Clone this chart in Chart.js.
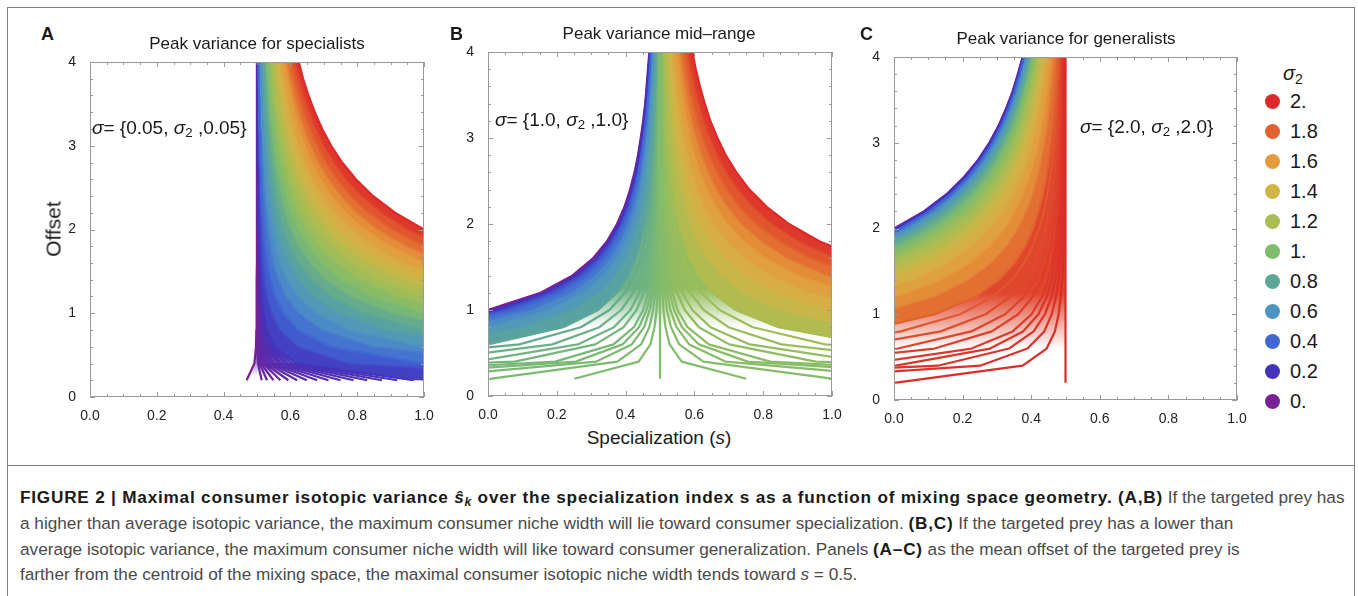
<!DOCTYPE html>
<html>
<head>
<meta charset="utf-8">
<title>Figure 2 - peak consumer variance</title>
<script src="https://cdn.jsdelivr.net/npm/chart.js@4.4.1/dist/chart.umd.min.js"></script>
<style>
  html, body { margin: 0; padding: 0; background: #fff; }
  body { width: 1358px; height: 596px; position: relative; overflow: hidden;
         font-family: "Liberation Sans", Arial, Helvetica, sans-serif; color: #1a1a1a; }
  .frame { position: absolute; left: 7px; top: 7px; width: 1348px; height: 640px;
           border: 1.5px solid #808080; box-sizing: border-box; }
  .rule { position: absolute; left: 7px; top: 465px; width: 1348px; border-top: 1.5px solid #808080; }
  canvas { position: absolute; }
  .txt { position: absolute; white-space: nowrap; line-height: 1; }
  .center { transform: translate(-50%, -50%); }
  .letter { font-weight: bold; font-size: 18px; }
  .ptitle { font-size: 17px; }
  .annot { font-size: 19px; }
  .axtitle { font-size: 19px; }
  .legend-title { font-size: 20px; }
  .legend-item { position: absolute; font-size: 20px; line-height: 1; }
  .dot { position: absolute; width: 15px; height: 15px; border-radius: 50%; }
  .caption { position: absolute; left: 20px; font-size: 17.2px; color: #4a4a4a; white-space: nowrap; line-height: 20px; }
  .caption b { color: #1a1a1a; letter-spacing: 0.78px; }
  sub { font-size: 0.7em; vertical-align: -0.25em; line-height: 0; }
</style>
</head>
<body>
<div class="frame"></div>
<div class="rule"></div>

<canvas id="chartA"></canvas>
<canvas id="chartB"></canvas>
<canvas id="chartC"></canvas>

<div class="txt letter" style="left:41px; top:25px;">A</div>
<div class="txt letter" style="left:450px; top:25px;">B</div>
<div class="txt letter" style="left:860px; top:25px;">C</div>

<div class="txt ptitle center" style="left:257px; top:43px;">Peak variance for specialists</div>
<div class="txt ptitle center" style="left:659px; top:33px;">Peak variance mid&#8211;range</div>
<div class="txt ptitle center" style="left:1066px; top:38px;">Peak variance for generalists</div>

<div class="txt annot" style="left:92px; top:118px;"><i>σ</i>= {0.05, <i>σ</i><sub>2</sub> ,0.05}</div>
<div class="txt annot" style="left:495px; top:110px;"><i>σ</i>= {1.0, <i>σ</i><sub>2</sub> ,1.0}</div>
<div class="txt annot" style="left:1080px; top:117px;"><i>σ</i>= {2.0, <i>σ</i><sub>2</sub> ,2.0}</div>

<div class="txt axtitle center" style="left:53px; top:229px; transform: translate(-50%, -50%) rotate(-90deg); font-size:21px;">Offset</div>
<div class="txt axtitle center" style="left:659px; top:437px;">Specialization (<i>s</i>)</div>

<div id="legend"></div>

<div class="caption" style="top:487px;"><b>FIGURE 2 | Maximal consumer isotopic variance <i>ŝ<sub>k</sub></i> over the specialization index s as a function of mixing space geometry. (A,B)</b> If the targeted prey has</div>
<div class="caption" style="top:513px;">a higher than average isotopic variance, the maximum consumer niche width will lie toward consumer specialization. <b>(B,C)</b> If the targeted prey has a lower than</div>
<div class="caption" style="top:539px;">average isotopic variance, the maximum consumer niche width will like toward consumer generalization. Panels <b>(A&#8211;C)</b> as the mean offset of the targeted prey is</div>
<div class="caption" style="top:564px;">farther from the centroid of the mixing space, the maximal consumer isotopic niche width tends toward <i>s</i> = 0.5.</div>

<script>
// offsets at which every curve was sampled
const offsets = [0.2, 0.4, 0.6, 0.8, 1.0, 1.2, 1.4, 1.6, 1.8, 2.0, 2.2, 2.4, 2.6, 2.8, 3.0, 3.2, 3.4, 3.6, 3.8, 4.0];

// sigma2 values shown in the legend and their colours
const sigma2 = [0, 0.2, 0.4, 0.6, 0.8, 1.0, 1.2, 1.4, 1.6, 1.8, 2.0];
const sigma2Labels = ['0.', '0.2', '0.4', '0.6', '0.8', '1.', '1.2', '1.4', '1.6', '1.8', '2.'];
const sigma2Colors = ['#7a1f96', '#4434bc', '#4068d4', '#4e94c2', '#5da797', '#80bc6c',
                      '#a8bd52', '#d1b446', '#e49b3c', '#e2622f', '#db2a29'];

const xTickLabels = ['0.0', '0.2', '0.4', '0.6', '0.8', '1.0'];
const yTickLabels = ['0', '1', '2', '3', '4'];

// ---------- panel A, sigma = {0.05, sigma2, 0.05}: s at each offset, one row per sigma2 ----------
const peakA = [
  [0.469, 0.492, 0.497, 0.498, 0.499, 0.499, 0.499, 0.5, 0.5, 0.5, 0.5, 0.5, 0.5, 0.5, 0.5, 0.5, 0.5, 0.5, 0.5, 0.5],
  [0.969, 0.617, 0.552, 0.529, 0.519, 0.513, 0.51, 0.507, 0.506, 0.505, 0.504, 0.503, 0.503, 0.502, 0.502, 0.502, 0.502, 0.501, 0.501, 0.501],
  [2.469, 0.992, 0.719, 0.623, 0.579, 0.555, 0.54, 0.531, 0.524, 0.52, 0.516, 0.514, 0.512, 0.51, 0.509, 0.508, 0.507, 0.506, 0.505, 0.505],
  [4.969, 1.617, 0.997, 0.779, 0.679, 0.624, 0.591, 0.57, 0.555, 0.545, 0.537, 0.531, 0.526, 0.523, 0.52, 0.517, 0.515, 0.514, 0.512, 0.511],
  [8.469, 2.492, 1.385, 0.998, 0.819, 0.721, 0.663, 0.625, 0.598, 0.58, 0.566, 0.555, 0.547, 0.541, 0.535, 0.531, 0.528, 0.525, 0.522, 0.52],
  [12.969, 3.617, 1.885, 1.279, 0.999, 0.846, 0.754, 0.695, 0.654, 0.625, 0.603, 0.587, 0.574, 0.564, 0.555, 0.549, 0.543, 0.538, 0.535, 0.531],
  [18.469, 4.992, 2.497, 1.623, 1.219, 0.999, 0.867, 0.781, 0.722, 0.68, 0.649, 0.625, 0.606, 0.592, 0.58, 0.57, 0.562, 0.555, 0.55, 0.545],
  [24.969, 6.617, 3.219, 2.029, 1.479, 1.18, 0.999, 0.882, 0.802, 0.745, 0.702, 0.67, 0.645, 0.625, 0.609, 0.596, 0.585, 0.576, 0.568, 0.561],
  [32.469, 8.492, 4.052, 2.498, 1.779, 1.388, 1.152, 1.0, 0.895, 0.82, 0.764, 0.722, 0.689, 0.663, 0.642, 0.625, 0.611, 0.599, 0.589, 0.58],
  [40.969, 10.617, 4.997, 3.029, 2.119, 1.624, 1.326, 1.132, 1.0, 0.905, 0.834, 0.781, 0.739, 0.706, 0.68, 0.658, 0.64, 0.625, 0.612, 0.601],
  [50.469, 12.992, 6.052, 3.623, 2.499, 1.888, 1.52, 1.281, 1.117, 1.0, 0.913, 0.847, 0.796, 0.755, 0.722, 0.695, 0.673, 0.654, 0.638, 0.625]
];
// in-between curves of panel A
const midSigmaA = [0.3, 0.5, 0.7, 0.9, 1.1, 1.3, 1.5, 1.7, 1.9];
const midA = [
  [1.594, 0.773, 0.622, 0.568, 0.544, 0.53, 0.522, 0.517, 0.514, 0.511, 0.509, 0.508, 0.506, 0.506, 0.505, 0.504, 0.504, 0.503, 0.503, 0.503],
  [3.594, 1.273, 0.844, 0.693, 0.624, 0.586, 0.563, 0.548, 0.538, 0.531, 0.526, 0.521, 0.518, 0.516, 0.514, 0.512, 0.511, 0.51, 0.509, 0.508],
  [6.594, 2.023, 1.177, 0.881, 0.744, 0.669, 0.624, 0.595, 0.575, 0.561, 0.55, 0.542, 0.536, 0.531, 0.527, 0.524, 0.521, 0.519, 0.517, 0.515],
  [10.594, 3.023, 1.622, 1.131, 0.904, 0.78, 0.706, 0.658, 0.625, 0.601, 0.583, 0.57, 0.56, 0.551, 0.545, 0.539, 0.535, 0.531, 0.528, 0.525],
  [15.594, 4.273, 2.177, 1.443, 1.104, 0.919, 0.808, 0.736, 0.686, 0.651, 0.625, 0.605, 0.589, 0.577, 0.567, 0.559, 0.552, 0.547, 0.542, 0.538],
  [21.594, 5.773, 2.844, 1.818, 1.344, 1.086, 0.93, 0.83, 0.76, 0.711, 0.674, 0.646, 0.625, 0.608, 0.594, 0.582, 0.573, 0.565, 0.558, 0.553],
  [28.594, 7.523, 3.622, 2.256, 1.624, 1.28, 1.073, 0.939, 0.847, 0.781, 0.732, 0.695, 0.666, 0.643, 0.625, 0.61, 0.597, 0.587, 0.578, 0.57],
  [36.594, 9.523, 4.51, 2.756, 1.944, 1.503, 1.237, 1.064, 0.946, 0.861, 0.798, 0.751, 0.714, 0.684, 0.66, 0.641, 0.625, 0.611, 0.6, 0.59],
  [45.594, 11.773, 5.51, 3.318, 2.304, 1.753, 1.42, 1.205, 1.057, 0.951, 0.873, 0.813, 0.767, 0.73, 0.7, 0.676, 0.656, 0.639, 0.625, 0.613]
];
// the thin fan of curves at the bottom of panel A
const fanSigmaA = [0.06, 0.07, 0.08, 0.09, 0.1, 0.11, 0.12, 0.13, 0.14, 0.15, 0.16, 0.17, 0.18, 0.19];
const fanA = [
  [0.514, 0.503, 0.502, 0.501, 0.501, 0.5, 0.5, 0.5, 0.5, 0.5, 0.5, 0.5, 0.5, 0.5, 0.5, 0.5, 0.5, 0.5, 0.5, 0.5],
  [0.53, 0.508, 0.503, 0.502, 0.501, 0.501, 0.501, 0.5, 0.5, 0.5, 0.5, 0.5, 0.5, 0.5, 0.5, 0.5, 0.5, 0.5, 0.5, 0.5],
  [0.549, 0.512, 0.505, 0.503, 0.502, 0.501, 0.501, 0.501, 0.501, 0.5, 0.5, 0.5, 0.5, 0.5, 0.5, 0.5, 0.5, 0.5, 0.5, 0.5],
  [0.57, 0.518, 0.508, 0.504, 0.503, 0.502, 0.501, 0.501, 0.501, 0.501, 0.501, 0.5, 0.5, 0.5, 0.5, 0.5, 0.5, 0.5, 0.5, 0.5],
  [0.594, 0.523, 0.51, 0.506, 0.504, 0.503, 0.502, 0.501, 0.501, 0.501, 0.501, 0.501, 0.5, 0.5, 0.5, 0.5, 0.5, 0.5, 0.5, 0.5],
  [0.62, 0.53, 0.513, 0.508, 0.505, 0.503, 0.502, 0.502, 0.501, 0.501, 0.501, 0.501, 0.501, 0.501, 0.5, 0.5, 0.5, 0.5, 0.5, 0.5],
  [0.649, 0.537, 0.517, 0.509, 0.506, 0.504, 0.503, 0.502, 0.502, 0.501, 0.501, 0.501, 0.501, 0.501, 0.501, 0.5, 0.5, 0.5, 0.5, 0.5],
  [0.68, 0.545, 0.52, 0.511, 0.507, 0.505, 0.504, 0.503, 0.502, 0.502, 0.501, 0.501, 0.501, 0.501, 0.501, 0.501, 0.501, 0.501, 0.5, 0.5],
  [0.714, 0.553, 0.524, 0.513, 0.509, 0.506, 0.504, 0.503, 0.503, 0.502, 0.502, 0.501, 0.501, 0.501, 0.501, 0.501, 0.501, 0.501, 0.501, 0.501],
  [0.75, 0.563, 0.528, 0.516, 0.51, 0.507, 0.505, 0.504, 0.503, 0.503, 0.502, 0.502, 0.501, 0.501, 0.501, 0.501, 0.501, 0.501, 0.501, 0.501],
  [0.789, 0.572, 0.532, 0.518, 0.512, 0.508, 0.506, 0.505, 0.504, 0.503, 0.502, 0.502, 0.502, 0.501, 0.501, 0.501, 0.501, 0.501, 0.501, 0.501],
  [0.83, 0.583, 0.537, 0.521, 0.513, 0.509, 0.507, 0.505, 0.504, 0.503, 0.503, 0.502, 0.502, 0.502, 0.501, 0.501, 0.501, 0.501, 0.501, 0.501],
  [0.874, 0.593, 0.542, 0.523, 0.515, 0.51, 0.508, 0.506, 0.505, 0.504, 0.503, 0.503, 0.502, 0.502, 0.502, 0.501, 0.501, 0.501, 0.501, 0.501],
  [0.92, 0.605, 0.547, 0.526, 0.517, 0.512, 0.509, 0.507, 0.505, 0.504, 0.503, 0.503, 0.502, 0.502, 0.502, 0.502, 0.501, 0.501, 0.501, 0.501]
];

// ---------- panel B, sigma = {1.0, sigma2, 1.0} ----------
const peakB = [
  [-12, -2.625, -0.889, -0.281, 0, 0.153, 0.245, 0.305, 0.346, 0.375, 0.397, 0.413, 0.426, 0.436, 0.444, 0.451, 0.457, 0.461, 0.465, 0.469],
  [-11.5, -2.5, -0.833, -0.25, 0.02, 0.167, 0.255, 0.313, 0.352, 0.38, 0.401, 0.417, 0.429, 0.439, 0.447, 0.453, 0.458, 0.463, 0.467, 0.47],
  [-10, -2.125, -0.667, -0.156, 0.08, 0.208, 0.286, 0.336, 0.37, 0.395, 0.413, 0.427, 0.438, 0.446, 0.453, 0.459, 0.464, 0.468, 0.471, 0.474],
  [-7.5, -1.5, -0.389, 0, 0.18, 0.278, 0.337, 0.375, 0.401, 0.42, 0.434, 0.444, 0.453, 0.459, 0.464, 0.469, 0.472, 0.475, 0.478, 0.48],
  [-4, -0.625, 0, 0.219, 0.32, 0.375, 0.408, 0.43, 0.444, 0.455, 0.463, 0.469, 0.473, 0.477, 0.48, 0.482, 0.484, 0.486, 0.488, 0.489],
  [0.5, 0.5, 0.5, 0.5, 0.5, 0.5, 0.5, 0.5, 0.5, 0.5, 0.5, 0.5, 0.5, 0.5, 0.5, 0.5, 0.5, 0.5, 0.5, 0.5],
  [6, 1.875, 1.111, 0.844, 0.72, 0.653, 0.612, 0.586, 0.568, 0.555, 0.545, 0.538, 0.533, 0.528, 0.524, 0.521, 0.519, 0.517, 0.515, 0.514],
  [12.5, 3.5, 1.833, 1.25, 0.98, 0.833, 0.745, 0.688, 0.648, 0.62, 0.599, 0.583, 0.571, 0.561, 0.553, 0.547, 0.542, 0.537, 0.533, 0.53],
  [20, 5.375, 2.667, 1.719, 1.28, 1.042, 0.898, 0.805, 0.741, 0.695, 0.661, 0.635, 0.615, 0.599, 0.587, 0.576, 0.567, 0.56, 0.554, 0.549],
  [28.5, 7.5, 3.611, 2.25, 1.62, 1.278, 1.071, 0.938, 0.846, 0.78, 0.731, 0.694, 0.666, 0.643, 0.624, 0.609, 0.597, 0.586, 0.578, 0.57],
  [38, 9.875, 4.667, 2.844, 2, 1.542, 1.265, 1.086, 0.963, 0.875, 0.81, 0.76, 0.722, 0.691, 0.667, 0.646, 0.63, 0.616, 0.604, 0.594]
];
const midSigmaB = [0.1, 0.3, 0.5, 0.7, 1.3, 1.5, 1.7, 1.9];
const midB = [
  [-11.875, -2.594, -0.875, -0.273, 0.005, 0.156, 0.247, 0.307, 0.347, 0.376, 0.398, 0.414, 0.427, 0.437, 0.445, 0.452, 0.457, 0.462, 0.466, 0.469],
  [-10.875, -2.344, -0.764, -0.211, 0.045, 0.184, 0.268, 0.322, 0.36, 0.386, 0.406, 0.421, 0.433, 0.442, 0.449, 0.456, 0.461, 0.465, 0.468, 0.472],
  [-8.875, -1.844, -0.542, -0.086, 0.125, 0.24, 0.309, 0.354, 0.384, 0.406, 0.423, 0.435, 0.445, 0.452, 0.458, 0.463, 0.468, 0.471, 0.474, 0.477],
  [-5.875, -1.094, -0.208, 0.102, 0.245, 0.323, 0.37, 0.4, 0.421, 0.436, 0.447, 0.456, 0.462, 0.467, 0.472, 0.475, 0.478, 0.48, 0.482, 0.484],
  [9.125, 2.656, 1.458, 1.039, 0.845, 0.74, 0.676, 0.635, 0.606, 0.586, 0.571, 0.56, 0.551, 0.544, 0.538, 0.534, 0.53, 0.527, 0.524, 0.522],
  [16.125, 4.406, 2.236, 1.477, 1.125, 0.934, 0.819, 0.744, 0.693, 0.656, 0.629, 0.609, 0.592, 0.58, 0.569, 0.561, 0.554, 0.548, 0.543, 0.539],
  [24.125, 6.406, 3.125, 1.977, 1.445, 1.156, 0.982, 0.869, 0.792, 0.736, 0.695, 0.664, 0.64, 0.621, 0.605, 0.592, 0.582, 0.573, 0.565, 0.559],
  [33.125, 8.656, 4.125, 2.539, 1.805, 1.406, 1.166, 1.01, 0.903, 0.826, 0.77, 0.727, 0.693, 0.666, 0.645, 0.627, 0.613, 0.601, 0.59, 0.582]
];
const fanSigmaB = [0.99, 0.98, 0.97, 0.96, 0.95, 0.93, 0.91, 0.88, 0.84, 1.01, 1.02, 1.03, 1.04, 1.05, 1.07, 1.09, 1.12, 1.16];
const fanB = [
  [0.251, 0.438, 0.472, 0.484, 0.49, 0.493, 0.495, 0.496, 0.497, 0.498, 0.498, 0.498, 0.499, 0.499, 0.499, 0.499, 0.499, 0.499, 0.499, 0.499],
  [0.005, 0.376, 0.445, 0.469, 0.48, 0.486, 0.49, 0.492, 0.494, 0.495, 0.496, 0.497, 0.497, 0.497, 0.498, 0.498, 0.498, 0.498, 0.499, 0.499],
  [-0.239, 0.315, 0.418, 0.454, 0.47, 0.479, 0.485, 0.488, 0.491, 0.493, 0.494, 0.495, 0.496, 0.496, 0.497, 0.497, 0.497, 0.498, 0.498, 0.498],
  [-0.48, 0.255, 0.391, 0.439, 0.461, 0.473, 0.48, 0.485, 0.488, 0.49, 0.492, 0.493, 0.494, 0.495, 0.496, 0.496, 0.497, 0.497, 0.497, 0.498],
  [-0.719, 0.195, 0.365, 0.424, 0.451, 0.466, 0.475, 0.481, 0.485, 0.488, 0.49, 0.492, 0.493, 0.494, 0.495, 0.495, 0.496, 0.496, 0.497, 0.497],
  [-1.189, 0.078, 0.312, 0.394, 0.432, 0.453, 0.466, 0.474, 0.479, 0.483, 0.486, 0.488, 0.49, 0.491, 0.492, 0.493, 0.494, 0.495, 0.495, 0.496],
  [-1.649, -0.037, 0.261, 0.366, 0.414, 0.44, 0.456, 0.466, 0.473, 0.479, 0.482, 0.485, 0.487, 0.489, 0.49, 0.492, 0.493, 0.493, 0.494, 0.495],
  [-2.32, -0.205, 0.187, 0.324, 0.387, 0.422, 0.442, 0.456, 0.465, 0.472, 0.477, 0.48, 0.483, 0.486, 0.487, 0.489, 0.49, 0.491, 0.492, 0.493],
  [-3.18, -0.42, 0.091, 0.27, 0.353, 0.398, 0.425, 0.443, 0.455, 0.463, 0.47, 0.474, 0.478, 0.481, 0.484, 0.486, 0.487, 0.489, 0.49, 0.491],
  [0.751, 0.563, 0.528, 0.516, 0.51, 0.507, 0.505, 0.504, 0.503, 0.503, 0.502, 0.502, 0.501, 0.501, 0.501, 0.501, 0.501, 0.501, 0.501, 0.501],
  [1.005, 0.626, 0.556, 0.532, 0.52, 0.514, 0.51, 0.508, 0.506, 0.505, 0.504, 0.504, 0.503, 0.503, 0.502, 0.502, 0.502, 0.502, 0.501, 0.501],
  [1.261, 0.69, 0.585, 0.548, 0.53, 0.521, 0.516, 0.512, 0.509, 0.508, 0.506, 0.505, 0.505, 0.504, 0.503, 0.503, 0.503, 0.502, 0.502, 0.502],
  [1.52, 0.755, 0.613, 0.564, 0.541, 0.528, 0.521, 0.516, 0.513, 0.51, 0.508, 0.507, 0.506, 0.505, 0.505, 0.504, 0.504, 0.503, 0.503, 0.503],
  [1.781, 0.82, 0.642, 0.58, 0.551, 0.536, 0.526, 0.52, 0.516, 0.513, 0.511, 0.509, 0.508, 0.507, 0.506, 0.505, 0.504, 0.504, 0.504, 0.503],
  [2.311, 0.953, 0.701, 0.613, 0.572, 0.55, 0.537, 0.528, 0.522, 0.518, 0.515, 0.513, 0.511, 0.509, 0.508, 0.507, 0.506, 0.506, 0.505, 0.505],
  [2.851, 1.088, 0.761, 0.647, 0.594, 0.565, 0.548, 0.537, 0.529, 0.524, 0.519, 0.516, 0.514, 0.512, 0.51, 0.509, 0.508, 0.507, 0.507, 0.506],
  [3.68, 1.295, 0.853, 0.699, 0.627, 0.588, 0.565, 0.55, 0.539, 0.532, 0.526, 0.522, 0.519, 0.516, 0.514, 0.512, 0.511, 0.51, 0.509, 0.508],
  [4.82, 1.58, 0.98, 0.77, 0.673, 0.62, 0.588, 0.568, 0.553, 0.543, 0.536, 0.53, 0.526, 0.522, 0.519, 0.517, 0.515, 0.513, 0.512, 0.511]
];

// ---------- panel C, sigma = {2.0, sigma2, 2.0} ----------
const peakC = [
  [-49.5, -12, -5.056, -2.625, -1.5, -0.889, -0.52, -0.281, -0.117, 0, 0.087, 0.153, 0.204, 0.245, 0.278, 0.305, 0.327, 0.346, 0.361, 0.375],
  [-49, -11.875, -5, -2.594, -1.48, -0.875, -0.51, -0.273, -0.111, 0.005, 0.091, 0.156, 0.207, 0.247, 0.28, 0.307, 0.329, 0.347, 0.363, 0.376],
  [-47.5, -11.5, -4.833, -2.5, -1.42, -0.833, -0.48, -0.25, -0.093, 0.02, 0.103, 0.167, 0.216, 0.255, 0.287, 0.313, 0.334, 0.352, 0.367, 0.38],
  [-45, -10.875, -4.556, -2.344, -1.32, -0.764, -0.429, -0.211, -0.062, 0.045, 0.124, 0.184, 0.231, 0.268, 0.298, 0.322, 0.343, 0.36, 0.374, 0.386],
  [-41.5, -10, -4.167, -2.125, -1.18, -0.667, -0.357, -0.156, -0.019, 0.08, 0.153, 0.208, 0.251, 0.286, 0.313, 0.336, 0.355, 0.37, 0.384, 0.395],
  [-37, -8.875, -3.667, -1.844, -1, -0.542, -0.265, -0.086, 0.037, 0.125, 0.19, 0.24, 0.278, 0.309, 0.333, 0.354, 0.37, 0.384, 0.396, 0.406],
  [-31.5, -7.5, -3.056, -1.5, -0.78, -0.389, -0.153, 0, 0.105, 0.18, 0.236, 0.278, 0.311, 0.337, 0.358, 0.375, 0.389, 0.401, 0.411, 0.42],
  [-25, -5.875, -2.333, -1.094, -0.52, -0.208, -0.02, 0.102, 0.185, 0.245, 0.289, 0.323, 0.349, 0.37, 0.387, 0.4, 0.412, 0.421, 0.429, 0.436],
  [-17.5, -4, -1.5, -0.625, -0.22, 0, 0.133, 0.219, 0.278, 0.32, 0.351, 0.375, 0.393, 0.408, 0.42, 0.43, 0.438, 0.444, 0.45, 0.455],
  [-9, -1.875, -0.556, -0.094, 0.12, 0.236, 0.306, 0.352, 0.383, 0.405, 0.421, 0.434, 0.444, 0.452, 0.458, 0.463, 0.467, 0.471, 0.474, 0.476],
  [0.5, 0.5, 0.5, 0.5, 0.5, 0.5, 0.5, 0.5, 0.5, 0.5, 0.5, 0.5, 0.5, 0.5, 0.5, 0.5, 0.5, 0.5, 0.5, 0.5]
];
const midSigmaC = [0.1, 0.3, 0.5, 0.7, 0.9, 1.1, 1.3, 1.5, 1.7];
const midC = [
  [-49.375, -11.969, -5.042, -2.617, -1.495, -0.885, -0.518, -0.279, -0.116, 0.001, 0.088, 0.154, 0.205, 0.246, 0.278, 0.305, 0.327, 0.346, 0.362, 0.375],
  [-48.375, -11.719, -4.931, -2.555, -1.455, -0.858, -0.497, -0.264, -0.103, 0.011, 0.096, 0.161, 0.211, 0.251, 0.283, 0.309, 0.331, 0.349, 0.365, 0.378],
  [-46.375, -11.219, -4.708, -2.43, -1.375, -0.802, -0.457, -0.232, -0.079, 0.031, 0.113, 0.174, 0.223, 0.261, 0.292, 0.317, 0.338, 0.355, 0.37, 0.383],
  [-43.375, -10.469, -4.375, -2.242, -1.255, -0.719, -0.395, -0.186, -0.042, 0.061, 0.137, 0.195, 0.24, 0.276, 0.305, 0.329, 0.348, 0.365, 0.378, 0.39],
  [-39.375, -9.469, -3.931, -1.992, -1.095, -0.608, -0.314, -0.123, 0.008, 0.101, 0.17, 0.223, 0.264, 0.297, 0.323, 0.344, 0.362, 0.377, 0.39, 0.4],
  [-34.375, -8.219, -3.375, -1.68, -0.895, -0.469, -0.212, -0.045, 0.069, 0.151, 0.212, 0.258, 0.294, 0.322, 0.345, 0.364, 0.379, 0.392, 0.403, 0.413],
  [-28.375, -6.719, -2.708, -1.305, -0.655, -0.302, -0.089, 0.049, 0.144, 0.211, 0.261, 0.299, 0.329, 0.353, 0.372, 0.387, 0.4, 0.411, 0.42, 0.428],
  [-21.375, -4.969, -1.931, -0.867, -0.375, -0.108, 0.054, 0.158, 0.23, 0.281, 0.319, 0.348, 0.371, 0.388, 0.403, 0.415, 0.424, 0.432, 0.439, 0.445],
  [-13.375, -2.969, -1.042, -0.367, -0.055, 0.115, 0.217, 0.283, 0.329, 0.361, 0.385, 0.404, 0.418, 0.429, 0.438, 0.446, 0.452, 0.457, 0.462, 0.465]
];
const fanSigmaC = [1.99, 1.98, 1.97, 1.96, 1.95, 1.93, 1.91, 1.88, 1.84];
const fanC = [
  [0.001, 0.375, 0.445, 0.469, 0.48, 0.486, 0.49, 0.492, 0.494, 0.495, 0.496, 0.497, 0.497, 0.497, 0.498, 0.498, 0.498, 0.498, 0.499, 0.499],
  [-0.495, 0.251, 0.389, 0.438, 0.46, 0.472, 0.48, 0.484, 0.488, 0.49, 0.492, 0.493, 0.494, 0.495, 0.496, 0.496, 0.497, 0.497, 0.497, 0.498],
  [-0.989, 0.128, 0.335, 0.407, 0.44, 0.459, 0.47, 0.477, 0.482, 0.485, 0.488, 0.49, 0.491, 0.492, 0.493, 0.494, 0.495, 0.495, 0.496, 0.496],
  [-1.48, 0.005, 0.28, 0.376, 0.421, 0.445, 0.46, 0.469, 0.476, 0.48, 0.484, 0.486, 0.488, 0.49, 0.491, 0.492, 0.493, 0.494, 0.495, 0.495],
  [-1.969, -0.117, 0.226, 0.346, 0.401, 0.431, 0.45, 0.461, 0.47, 0.475, 0.48, 0.483, 0.485, 0.487, 0.489, 0.49, 0.491, 0.492, 0.493, 0.494],
  [-2.939, -0.36, 0.118, 0.285, 0.362, 0.404, 0.43, 0.446, 0.458, 0.466, 0.472, 0.476, 0.48, 0.482, 0.485, 0.487, 0.488, 0.489, 0.49, 0.491],
  [-3.899, -0.6, 0.011, 0.225, 0.324, 0.378, 0.41, 0.431, 0.446, 0.456, 0.464, 0.469, 0.474, 0.478, 0.48, 0.483, 0.485, 0.486, 0.488, 0.489],
  [-5.32, -0.955, -0.147, 0.136, 0.267, 0.338, 0.381, 0.409, 0.428, 0.442, 0.452, 0.46, 0.466, 0.47, 0.474, 0.477, 0.48, 0.482, 0.484, 0.485],
  [-7.18, -1.42, -0.353, 0.02, 0.193, 0.287, 0.343, 0.38, 0.405, 0.423, 0.437, 0.447, 0.455, 0.461, 0.466, 0.47, 0.473, 0.476, 0.479, 0.481]
];

const FONT = '"Liberation Sans", Arial, Helvetica, sans-serif';

// colour helpers (map a sigma2 value onto the legend's colour ramp)
function hexToRgb(h) {
  return [1, 3, 5].map(i => parseInt(h.substr(i, 2), 16));
}
function rgba(c, alpha) {
  return 'rgba(' + c.join(',') + ',' + alpha + ')';
}
function colorRgb(v) {
  let k = 0;
  while (k < sigma2.length - 2 && v > sigma2[k + 1]) k++;
  const t = Math.max(0, Math.min(1, (v - sigma2[k]) / (sigma2[k + 1] - sigma2[k])));
  const A = hexToRgb(sigma2Colors[k]), B = hexToRgb(sigma2Colors[k + 1]);
  return A.map((a, i) => Math.round(a + (B[i] - a) * t));
}

function toPoints(sVals) {
  return sVals.map((s, i) => ({ x: s, y: offsets[i] }));
}

function curve(sVals, color, order, width) {
  return {
    data: toPoints(sVals),
    borderColor: color,
    borderWidth: width,
    borderJoinStyle: 'round',
    pointRadius: 0,
    fill: false,
    order: order
  };
}

// region between two neighbouring curves, filled as a closed shape
function band(lower, upper, rgb) {
  const pts = toPoints(lower).concat(toPoints(upper).reverse());
  return {
    data: pts,
    borderColor: rgba(rgb, 1),
    borderWidth: 1,
    backgroundColor: rgba(rgb, 1),
    pointRadius: 0,
    fill: 'shape',
    order: 5
  };
}

// band around the fan: open (white gaps) low down, solid higher up
function fadingBand(lower, upper, rgb, clearAt, solidAt) {
  const ds = band(lower, upper, rgb);
  ds.borderColor = 'rgba(0,0,0,0)';
  ds.borderWidth = 0;
  ds.backgroundColor = (c) => {
    const chart = c.chart;
    const y = chart.scales && chart.scales.y;
    if (!chart.chartArea || !y) return rgba(rgb, 1);
    const g = chart.ctx.createLinearGradient(0, y.getPixelForValue(clearAt), 0, y.getPixelForValue(solidAt));
    g.addColorStop(0, rgba(rgb, 0));
    g.addColorStop(1, rgba(rgb, 1));
    return g;
  };
  return ds;
}

// frame with inward major/minor ticks on all four sides
const frameTicks = {
  id: 'frameTicks',
  afterDraw(chart) {
    const { ctx, chartArea: a, scales: { x, y } } = chart;
    ctx.save();
    ctx.strokeStyle = '#9a9a9a';
    ctx.lineWidth = 1;
    ctx.strokeRect(Math.round(a.left) + 0.5, Math.round(a.top) + 0.5,
                   Math.round(a.width) - 1, Math.round(a.height) - 1);
    ctx.beginPath();
    for (let i = 0; i <= 20; i++) {
      const px = Math.round(x.getPixelForValue(i / 20)) + 0.5;
      const len = i % 4 === 0 ? 5 : 3;
      ctx.moveTo(px, a.bottom); ctx.lineTo(px, a.bottom - len);
      ctx.moveTo(px, a.top); ctx.lineTo(px, a.top + len);
    }
    for (let i = 0; i <= 20; i++) {
      const py = Math.round(y.getPixelForValue(i / 5)) + 0.5;
      const len = i % 5 === 0 ? 5 : 3;
      ctx.moveTo(a.left, py); ctx.lineTo(a.left + len, py);
      ctx.moveTo(a.right, py); ctx.lineTo(a.right - len, py);
    }
    ctx.stroke();
    ctx.restore();
  }
};

// fadeZone: { from, to, clear, solid } sigma2 range whose bands open up below `clear`
function makePanel(id, box, peak, midSigma, mid, fanSigma, fan, fadeZone) {
  const padL = 40, padT = 10, padR = 14, padB = 25;
  const canvas = document.getElementById(id);
  const w = box.r - box.l + padL + padR;
  const h = box.b - box.t + padT + padB;
  canvas.width = w; canvas.height = h;
  canvas.style.width = w + 'px'; canvas.style.height = h + 'px';
  canvas.style.left = (box.l - padL) + 'px';
  canvas.style.top = (box.t - padT) + 'px';

  const curves = sigma2.map((v, i) => ({ sigma: v, s: peak[i], main: true }))
    .concat(midSigma.map((v, i) => ({ sigma: v, s: mid[i], main: false })))
    .sort((a, b) => a.sigma - b.sigma);

  const datasets = [];
  curves.slice().reverse().forEach(c => {
    datasets.push(curve(c.s, rgba(colorRgb(c.sigma), 1), c.main ? 1 : 2, c.main ? 2.2 : 1.6));
  });
  fan.forEach((s, i) => datasets.push(curve(s, rgba(colorRgb(fanSigma[i]), 1), 3, 2.2)));
  for (let i = 0; i < curves.length - 1; i++) {
    const lo = curves[i], hi = curves[i + 1];
    const rgb = colorRgb((lo.sigma + hi.sigma) / 2);
    const inFan = lo.sigma >= fadeZone.from - 1e-9 && hi.sigma <= fadeZone.to + 1e-9;
    datasets.push(inFan ? fadingBand(lo.s, hi.s, rgb, fadeZone.clear, fadeZone.solid)
                        : band(lo.s, hi.s, rgb));
  }

  return new Chart(canvas, {
    type: 'line',
    data: { datasets },
    options: {
      responsive: false,
      animation: false,
      events: [],
      layout: { padding: { left: 0, top: padT, right: padR, bottom: 0 } },
      plugins: { legend: { display: false }, tooltip: { enabled: false } },
      scales: {
        x: {
          type: 'linear', min: 0, max: 1,
          grid: { display: false }, border: { display: false },
          ticks: {
            stepSize: 0.2, autoSkip: false, maxRotation: 0, padding: 3,
            color: '#222', font: { size: 14, family: FONT },
            callback: (v, i) => xTickLabels[i]
          },
          afterFit: s => { s.height = padB; s.paddingLeft = 0; s.paddingRight = 0; }
        },
        y: {
          type: 'linear', min: 0, max: 4,
          grid: { display: false }, border: { display: false },
          ticks: {
            stepSize: 1, autoSkip: false, padding: 6,
            color: '#222', font: { size: 14, family: FONT },
            callback: (v, i) => yTickLabels[i]
          },
          afterFit: s => { s.width = padL; s.paddingTop = 0; s.paddingBottom = 0; }
        }
      }
    },
    plugins: [frameTicks]
  });
}

makePanel('chartA', { l: 90, t: 62, r: 424, b: 397 }, peakA, midSigmaA, midA, fanSigmaA, fanA,
          { from: 0, to: 0.2, clear: 0.25, solid: 0.55 });
makePanel('chartB', { l: 488, t: 52, r: 832, b: 396 }, peakB, midSigmaB, midB, fanSigmaB, fanB,
          { from: 0.8, to: 1.2, clear: 0.8, solid: 1.25 });
makePanel('chartC', { l: 894, t: 57, r: 1237, b: 400 }, peakC, midSigmaC, midC, fanSigmaC, fanC,
          { from: 1.8, to: 2.0, clear: 0.6, solid: 1.25 });

// legend: sigma2 colour key, largest value on top
const legend = document.getElementById('legend');
const title = document.createElement('div');
title.className = 'txt legend-title';
title.style.left = '1283px';
title.style.top = '63px';
title.innerHTML = '<i>σ</i><sub>2</sub>';
legend.appendChild(title);
for (let k = 0; k < sigma2.length; k++) {
  const i = sigma2.length - 1 - k;
  const cy = 101 + 30 * k;
  const dot = document.createElement('div');
  dot.className = 'dot';
  dot.style.left = '1265px';
  dot.style.top = (cy - 7.5) + 'px';
  dot.style.background = sigma2Colors[i];
  legend.appendChild(dot);
  const lab = document.createElement('div');
  lab.className = 'legend-item';
  lab.style.left = '1290px';
  lab.style.top = (cy - 10) + 'px';
  lab.textContent = sigma2Labels[i];
  legend.appendChild(lab);
}
</script>
</body>
</html>
